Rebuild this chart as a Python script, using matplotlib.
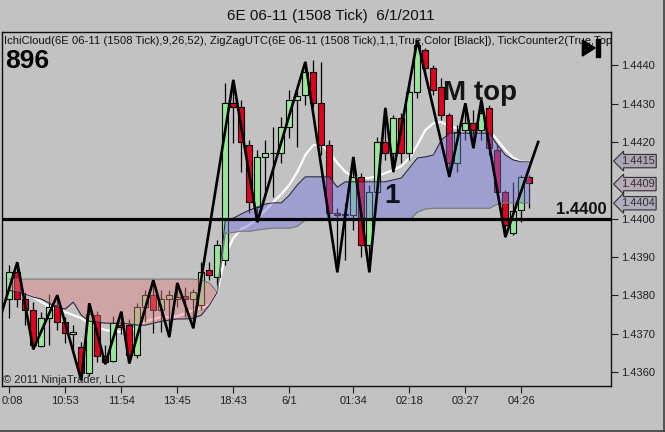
import matplotlib
matplotlib.use("Agg")
import matplotlib.pyplot as plt
import matplotlib.transforms as mtransforms
from matplotlib.patches import Polygon, Rectangle
from matplotlib.lines import Line2D
import numpy as np

plt.rcParams['font.family'] = ['Liberation Sans', 'DejaVu Sans']

# ---- data (6E 06-11, 1508 tick bars) ----
bar_open = [1.43790, 1.43860, 1.43790, 1.43761, 1.43667, 1.43740, 1.43774, 1.43730, 1.43700, 1.43665,
            1.43597, 1.43748, 1.43641, 1.43628, 1.43722, 1.43722, 1.43644, 1.43769, 1.43800, 1.43761,
            1.43790, 1.43790, 1.43797, 1.43790, 1.43774, 1.43866, 1.43847, 1.43892, 1.44301, 1.44291,
            1.44192, 1.44030, 1.44161, 1.44171, 1.44171, 1.44239, 1.44309, 1.44323, 1.44383, 1.44301,
            1.44192, 1.44014, 1.44010, 1.44009, 1.44109, 1.43931, 1.44069, 1.44200, 1.44171, 1.44262,
            1.44171, 1.44330, 1.44440, 1.44393, 1.44343, 1.44270, 1.44145, 1.44231, 1.44249, 1.44231,
            1.44289, 1.44179, 1.44069, 1.43962, 1.44022, 1.44109]
bar_high = [1.43878, 1.43886, 1.43808, 1.43782, 1.43756, 1.43803, 1.43800, 1.43743, 1.43722, 1.43678,
            1.43779, 1.43760, 1.43670, 1.43747, 1.43757, 1.43739, 1.43779, 1.43813, 1.43839, 1.43813,
            1.43813, 1.43832, 1.43821, 1.43816, 1.43886, 1.43886, 1.43944, 1.44354, 1.44362, 1.44309,
            1.44205, 1.44179, 1.44205, 1.44239, 1.44265, 1.44336, 1.44336, 1.44409, 1.44414, 1.44409,
            1.44205, 1.44027, 1.44040, 1.44161, 1.44119, 1.44088, 1.44213, 1.44289, 1.44270, 1.44276,
            1.44349, 1.44466, 1.44445, 1.44401, 1.44367, 1.44276, 1.44244, 1.44301, 1.44283, 1.44309,
            1.44296, 1.44192, 1.44075, 1.44096, 1.44114, 1.44114]
bar_low = [1.43740, 1.43769, 1.43722, 1.43659, 1.43665, 1.43670, 1.43709, 1.43675, 1.43651, 1.43578,
           1.43589, 1.43626, 1.43620, 1.43625, 1.43700, 1.43622, 1.43636, 1.43730, 1.43701, 1.43704,
           1.43691, 1.43770, 1.43743, 1.43714, 1.43761, 1.43839, 1.43826, 1.43879, 1.44197, 1.44122,
           1.44014, 1.43991, 1.44056, 1.44056, 1.44145, 1.44210, 1.44187, 1.44296, 1.44291, 1.44166,
           1.44009, 1.43860, 1.43892, 1.43970, 1.43899, 1.43860, 1.44067, 1.44153, 1.44122, 1.44145,
           1.44153, 1.44315, 1.44375, 1.44323, 1.44257, 1.44109, 1.44122, 1.44205, 1.44184, 1.44205,
           1.44166, 1.44061, 1.43952, 1.43957, 1.43991, 1.44027]
bar_close = [1.43860, 1.43790, 1.43761, 1.43670, 1.43740, 1.43769, 1.43730, 1.43701, 1.43703, 1.43597,
             1.43750, 1.43641, 1.43626, 1.43727, 1.43717, 1.43644, 1.43769, 1.43800, 1.43761, 1.43790,
             1.43800, 1.43795, 1.43790, 1.43808, 1.43860, 1.43852, 1.43931, 1.44301, 1.44291, 1.44200,
             1.44043, 1.44161, 1.44171, 1.44170, 1.44239, 1.44309, 1.44320, 1.44383, 1.44301, 1.44192,
             1.44014, 1.44009, 1.44012, 1.44109, 1.43931, 1.44069, 1.44200, 1.44171, 1.44262, 1.44171,
             1.44330, 1.44453, 1.44393, 1.44336, 1.44270, 1.44145, 1.44226, 1.44249, 1.44231, 1.44276,
             1.44184, 1.44069, 1.43983, 1.44020, 1.44109, 1.44093]

# ichimoku cloud spans and the white average line, one value per bar
senkou_a = [1.43813, 1.43808, 1.43803, 1.43795, 1.43790, 1.43779, 1.43769, 1.43764, 1.43782, 1.43748,
            1.43732, 1.43730, 1.43727, 1.43727, 1.43727, 1.43725, 1.43722, 1.43722, 1.43727, 1.43732,
            1.43735, 1.43738, 1.43738, 1.43740, 1.43748, 1.43774, 1.43808, 1.43996, 1.44001, 1.44012,
            1.44022, 1.44030, 1.44038, 1.44041, 1.44041, 1.44061, 1.44088, 1.44109, 1.44109, 1.44109,
            1.44109, 1.44082, 1.44096, 1.44096, 1.44096, 1.44096, 1.44096, 1.44096, 1.44101, 1.44106,
            1.44132, 1.44158, 1.44161, 1.44166, 1.44205, 1.44223, 1.44223, 1.44223, 1.44223, 1.44223,
            1.44223, 1.44192, 1.44166, 1.44153, 1.44148, 1.44148]
senkou_b = [1.43842] * 24 + [1.43839, 1.43832, 1.43808, 1.43962, 1.43964, 1.43967, 1.43967, 1.43970,
            1.43973, 1.43975, 1.43975, 1.43975, 1.43980] + [1.43996] * 14 + \
           [1.44017, 1.44025] + [1.44027] * 8 + [1.44038, 1.44041, 1.44041, 1.44041, 1.44041]
white_line = [1.43813, 1.43810, 1.43805, 1.43795, 1.43782, 1.43771, 1.43764, 1.43756, 1.43748, 1.43740,
              1.43727, 1.43717, 1.43709, 1.43706, 1.43704, 1.43706, 1.43717, 1.43730, 1.43738, 1.43743,
              1.43743, 1.43745, 1.43753, 1.43761, 1.43766, 1.43776, 1.43808, 1.43905, 1.43949, 1.43973,
              1.43983, 1.44001, 1.44022, 1.44043, 1.44064, 1.44088, 1.44122, 1.44166, 1.44192, 1.44192,
              1.44174, 1.44145, 1.44122, 1.44109, 1.44106, 1.44106, 1.44111, 1.44119, 1.44127, 1.44137,
              1.44158, 1.44192, 1.44231, 1.44249, 1.44252, 1.44241, 1.44236, 1.44236, 1.44236, 1.44234,
              1.44229, 1.44205, 1.44179, 1.44158, 1.44148, 1.44148]

# zigzag swing points (bar index, price)
zz_idx = [-1, 1, 3, 6, 9, 10, 12, 14, 15, 18, 20, 21, 23, 28, 31, 37, 41, 43, 45, 47, 48,
          51, 55, 57, 58, 59, 62, 66.1]
zz_price = [1.43751, 1.43886, 1.43659, 1.43800, 1.43578, 1.43779, 1.43620, 1.43757, 1.43622,
            1.43839, 1.43691, 1.43832, 1.43714, 1.44362, 1.43991, 1.44409, 1.43860, 1.44161,
            1.43860, 1.44289, 1.44122, 1.44466, 1.44109, 1.44301, 1.44184, 1.44309, 1.43952, 1.44200]

tick_idx = [0, 7, 14, 21, 28, 35, 43, 50, 57, 64]
tick_labels = ["0:08", "10:53", "11:54", "13:45", "18:43", "6/1", "01:34", "02:18", "03:27", "04:26"]
# 1.4410 is hidden behind the price markers on the original
price_ticks = [1.4360, 1.4370, 1.4380, 1.4390, 1.4400, 1.4420, 1.4430, 1.4440]

level_line = 1.4400
markers = [1.4415, 1.4409, 1.4404]
marker_colors = ['#aba6b6', '#b7aab6', '#aeaebe']

# ---- figure ----
bg = '#c2c2c2'
fig = plt.figure(figsize=(6.65, 4.32), dpi=100, facecolor=bg)
ax = fig.add_axes([2 / 665, 1 - 386 / 432, 609 / 665, 354 / 432], facecolor=bg)

idx = np.arange(len(bar_open))
o = np.array(bar_open)
h = np.array(bar_high)
l = np.array(bar_low)
c = np.array(bar_close)
up = c >= o

ax.plot(idx, white_line, color='white', lw=1.6, zorder=1)

ax.vlines(idx, l, h, color='black', lw=0.9, zorder=2)
body_lo = np.minimum(o, c)
body_h = np.maximum(np.abs(c - o), 0.000012)
ax.bar(idx, body_h, bottom=body_lo, width=0.74,
       color=np.where(up, '#98e898', '#e0001c'), edgecolor='black', lw=0.8, zorder=3)

a = np.array(senkou_a)
b = np.array(senkou_b)
ax.fill_between(idx, a, b, where=b >= a, interpolate=True, color='#e08181', alpha=0.45,
                lw=0, zorder=4)
ax.fill_between(idx, a, b, where=a >= b, interpolate=True, color='#7676e0', alpha=0.45,
                lw=0, zorder=4)
ax.plot(idx, a, color='#2a2a48', lw=0.8, zorder=4.2)
ax.plot(idx, b, color='#777777', lw=0.8, zorder=4.2)
ax.text(47.8, 1.4404, "1", fontsize=20, fontweight='bold', color='#0c1020',
        ha='center', va='baseline', zorder=4.5)

ax.axhline(level_line, color='black', lw=2.3, zorder=5)
ax.plot(zz_idx, zz_price, color='black', lw=1.9, zorder=6, solid_joinstyle='miter')

ax.set_xlim(-0.91, 75.2)
ax.set_ylim(1.43563, 1.44487)

ax.yaxis.tick_right()
ax.set_yticks(price_ticks)
ax.set_yticklabels(["%.4f" % p for p in price_ticks])
ax.set_xticks(tick_idx)
ax.set_xticklabels(tick_labels)
ax.tick_params(axis='both', direction='out', length=5, width=0.8, color='#202020',
               labelsize=8, labelcolor='#202020', pad=2)
# first time label sits against the left edge, as on the original
first = ax.get_xticklabels()[0]
first.set_ha('left')
first.set_transform(first.get_transform() +
                    mtransforms.ScaledTranslation(-8 / 100, 0, fig.dpi_scale_trans))
for s in ax.spines.values():
    s.set_color('#101010')
    s.set_linewidth(1.0)

# texts
fig.text(0.4977, 1 - 20 / 432, "6E 06-11 (1508 Tick)  6/1/2011", ha='center', va='baseline',
         fontsize=11, color='#101010')
ax.text(0.0033, 0.966, "IchiCloud(6E 06-11 (1508 Tick),9,26,52), ZigZagUTC(6E 06-11 (1508 Tick),1,1,"
        "True,Color [Black]), TickCounter2(True,Top", transform=ax.transAxes, fontsize=8.1,
        color='#101010', va='baseline', ha='left', zorder=7, clip_on=True)
ax.text(0.005, 0.898, "896", transform=ax.transAxes, fontsize=19, fontweight='bold',
        color='black', va='baseline', ha='left', zorder=7)
ax.text(0.002, 0.0085, "\u00a9 2011 NinjaTrader, LLC", transform=ax.transAxes, fontsize=8,
        color='#202020', va='baseline', ha='left', zorder=7)
ax.text(54.2, 1.4431, "M top", fontsize=20, fontweight='bold', color='#141414',
        va='baseline', ha='left', zorder=7)
ax.annotate("1.4400", xy=(0.9934, level_line), xycoords=('axes fraction', 'data'),
            xytext=(0, 3.3), textcoords='offset points', ha='right', va='baseline',
            fontsize=12, fontweight='bold', color='#101010', zorder=7)

# play-to-end icon
ax.add_patch(Polygon([[0.953, 0.977], [0.953, 0.932], [0.974, 0.955]], closed=True,
                     transform=ax.transAxes, color='black', zorder=8))
ax.add_patch(Rectangle((0.9755, 0.929), 0.0065, 0.051, transform=ax.transAxes,
                       color='black', zorder=8))

# price markers on the right axis
for p, col in zip(markers, marker_colors):
    ax.annotate("%.4f" % p, xy=(1.0, p), xycoords=('axes fraction', 'data'),
                xytext=(7, 0), textcoords='offset points', ha='left', va='center',
                fontsize=8, color='#303030', annotation_clip=False, zorder=9,
                bbox=dict(boxstyle='larrow,pad=0.15', fc=col, ec='#303030', lw=0.8))

# window edge
fig.add_artist(Line2D([0, 1], [0.002, 0.002], transform=fig.transFigure, color='#404040', lw=1.2))
fig.add_artist(Line2D([0.998, 0.998], [0, 1], transform=fig.transFigure, color='#404040', lw=1.2))

fig.savefig("out.png", dpi=100, facecolor=bg)
